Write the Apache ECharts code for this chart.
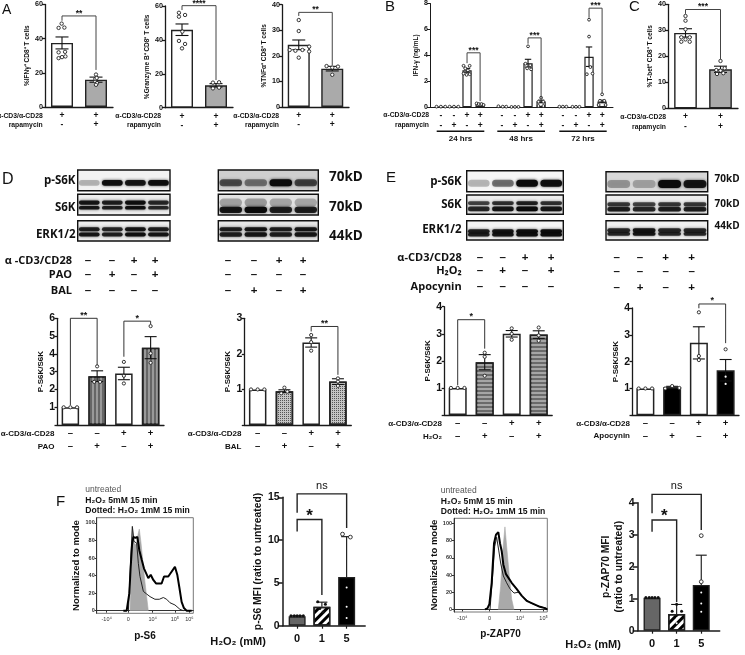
<!DOCTYPE html>
<html><head><meta charset="utf-8">
<style>html,body{margin:0;background:#fff}#c{width:745px;height:655px;filter:blur(.35px)}</style>
<script src="https://cdn.jsdelivr.net/npm/echarts@6/dist/echarts.min.js"></script>
</head><body><div id="c"></div>
<script>
// ---------- DATA ----------
const a1Cats=['+\n-','+\n+'];
const a1Vals=[37.5,16], a1Err=[3.5,1.5];
const a1Pts=[[0,46.3,-.1],[0,46.5,.07],[0,48.8,-.01],[0,32,-.1],[0,32.3,.09],[0,28.6,-.1],[0,29.6,.1],[0,29.2,0],[1,19,0],[1,15,-.02],[1,14,.03],[1,13,0],[1,16.5,-.02],[1,17,.02]];
const a2Vals=[46,13.2], a2Err=[3.4,1];
const a2Pts=[[0,56,-.09],[0,54.7,.09],[0,53.7,-.09],[0,44.9,.01],[0,39.4,-.09],[0,37.6,.09],[0,35,0],[1,14.8,-.09],[1,15,.09],[1,11.4,-.09],[1,11.8,.09]];
const a3Vals=[24.3,15], a3Err=[1.9,.9];
const a3Pts=[[0,34,0],[0,29.7,0],[0,22.3,-.27],[0,22,-.1],[0,22.3,.11],[0,23.6,.31],[0,21.7,.31],[0,19.3,0],[1,16,-.17],[1,15.8,.17],[1,12.6,0],[1,15.4,0]];
const bCats=['','','-\n-','','','-\n+','','','+\n-','','','+\n+','','','','','-\n-','','','-\n+','','','+\n-','','','+\n+','','','','','-\n-','','','-\n+','','','+\n-','','','+\n+','',''];
const bIdx=[2,5,8,11,16,19,22,25,30,33,36,39];
const bVals=[.05,.05,2.85,.25,.05,.03,3.4,.45,.04,.04,3.9,.45], bErr=[0,0,.15,.05,0,0,.3,.1,0,0,.75,.1];
const bPts=[[2,.05,-1],[2,.05,0],[2,.05,1],[5,.05,-1],[5,.05,0],[5,.05,1],
[8,3.2,-.8],[8,3.2,.6],[8,3,-.4],[8,2.85,.2],[8,2.6,-.8],[8,2.55,.6],[8,2.5,-.1],
[11,.3,-.8],[11,.25,-.3],[11,.25,.3],[11,.18,.8],
[16,.08,-.8],[16,.05,.2],[16,.05,1],[19,.03,-.8],[19,.03,0],[19,.03,.8],
[22,4.7,0],[22,3.36,-.6],[22,3.24,.5],[22,3,-.2],[22,2.93,.7],
[25,.74,0],[25,.43,-.6],[25,.43,.5],[25,.1,-.6],[25,.1,.5],
[30,.05,-.8],[30,.05,0],[30,.05,.8],[33,.04,-.8],[33,.04,0],[33,.04,.8],
[36,6.75,0],[36,5.45,0],[36,3.1,.3],[36,2.55,-.5],[36,2.6,.8],
[39,1,0],[39,.5,-.5],[39,.5,.5],[39,.18,-.8],[39,.18,.8]];
const cVals=[29,15], cErr=[1.6,1.2];
const cPts=[[0,35.5,0],[0,33.7,0],[0,30.4,0],[0,27.3,-.12],[0,27.3,.12],[0,26.5,0],[0,25.6,-.12],[0,25.6,.12],[1,18.2,0],[1,15.4,.12],[1,14.7,-.12],[1,14.5,0],[1,13.2,-.1],[1,13.5,.08]];
const d1Cats=['–\n–','–\n+','+\n–','+\n+'];
const d1Vals=[1,2.75,2.9,4.35], d1Err=[0,.3,.35,.62];
const d1Pts=[[0,1,-.25],[0,1,0],[0,1,.25],[1,3.3,0],[1,2.43,-.11],[1,2.43,.11],[2,3.55,0],[2,2.77,0],[2,2.34,0],[3,5.56,0],[3,4.03,0],[3,3.5,0]];
const d2Vals=[1,.95,2.32,1.22], d2Err=[0,.04,.13,.08];
const d2Pts=[[0,1,-.25],[0,1,0],[0,1,.25],[1,1.05,0],[1,.89,-.12],[1,.94,.11],[2,2.53,0],[2,2.33,0],[2,2.09,0],[3,1.31,0],[3,1.22,0],[3,1.1,0]];
const e1Vals=[1,1.95,3,2.97], e1Err=[0,.28,.12,.14];
const e1Pts=[[0,1,-.25],[0,1,0],[0,1,.25],[1,2.3,0],[1,2.15,0],[1,1.45,0],[2,3.2,0],[2,3,0],[2,2.78,0],[3,3.23,0],[3,2.94,0],[3,2.74,0]];
const e2Vals=[1,1.05,2.7,1.68], e2Err=[0,.03,.6,.4];
const e2Pts=[[0,1,-.25],[0,1,0],[0,1,.25],[1,1,-.26],[1,1.09,0],[1,1.02,.27],[2,3.84,0],[2,2.21,0],[2,2.06,0],[3,2.46,0]];
const e2Dots=[[3,1.44,0],[3,1.17,0]];
const fCats=['','','','0','','','','','','1','','','','','','5','','','',''];
const fIdx=[3,9,15];
const f3Vals=[1.1,2.2,5.7], f3Top=[.05,.55,4.7];
const f3Dark=[[3,1.15,-1.5],[3,1.15,-.7],[3,1.15,0],[3,1.15,.7],[3,1.15,1.5],[9,2.8,-1],[9,2.5,.85],[9,2,-.5],[9,1.6,.3]];
const f3Open=[[15,10.7,-1],[15,10.35,.9]];
const f3Dots=[[15,4.45,0],[15,2.2,0],[15,.9,0]];
const f4Vals=[1.03,.52,1.43], f4Top=[0,.3,.93];
const f4Dark=[[3,1.04,-1.5],[3,1.04,-.7],[3,1.04,0],[3,1.04,.7],[3,1.04,1.5],[9,.83,0],[9,.61,-1.1],[9,.61,1.2]];
const f4Open=[[15,2.97,0],[15,1.53,0]];
const f4Dots=[[9,.39,.1],[9,.23,0],[15,1.19,0],[15,.85,0],[15,.59,0]];
// histograms: [channel, % of mode]
const h1Gray=[[34.5,0],[35.9,54],[36.9,96],[38.6,77],[40.7,75],[42.8,87],[44.1,93],[45.9,77],[47.6,58],[49.7,35],[51.7,16],[53.4,0]];
const h1Thick=[[27.6,0],[31,0],[33.8,20],[35.2,50],[36.6,75],[37.9,84],[40,83],[42.1,84],[44.1,69],[46.6,58],[49,48],[51,43],[53.4,37],[55.9,41],[58.6,35],[61.4,31],[67.2,31],[69.7,39],[74.1,39],[76.6,43],[78.6,42],[81,50],[83.4,41],[85.5,27],[87.9,10],[90.3,3],[93,0],[98.3,0]];
const h1Thin=[[32.8,0],[35.2,58],[36.9,96],[38.6,79],[41.4,77],[43.1,54],[44.8,39],[48.3,22],[51.7,19],[55.2,16],[60.3,13],[64.8,13],[69,15],[72.4,13],[75.9,9],[81,6.5],[86.2,1.5],[89.7,0]];
const h2Gray=[[47.5,0],[50,27],[52.1,66],[54.6,96],[56.8,69],[59.3,39],[61.8,12],[64.3,0]];
const h2Thick=[[33.2,0],[35.7,1],[37.9,6],[40.4,31],[42.9,77],[45,87],[47.5,90],[49.3,77],[51.1,68],[52.9,52],[55.7,41],[58.2,37],[61.8,31],[67.1,24],[72.5,16],[77.9,10],[85,6.5],[92.1,3],[97.5,1.5],[100,0]];
const h2Thin=[[38.6,0],[41.4,39],[43.6,73],[45.7,84],[47.9,69],[50,54],[52.9,39],[56.4,31],[60,24],[64.3,19],[68.9,20],[74.3,14],[81.4,8],[88.6,4.5],[99.3,1]];
// western blot band intensity per lane
const dlPS6K=[.25,.95,.9,.95], dlS6K=[.9,.85,.95,.8], dlERK=[.9,.85,.95,.9];
const drPS6K=[.6,.45,1,.65], drS6K=[.9,1,.85,.85], drERK=[.85,.9,.85,.9];
const elPS6K=[.25,.5,1,.95], elS6K=[.8,.9,1,.9], elERK=[.85,.9,.95,.95];
const erPS6K=[.3,.25,1,.9], erS6K=[.85,.8,.85,.85], erERK=[.8,.9,.8,.8];
// sign rows
const dlRows=[['–','–','+','+'],['–','+','–','+'],['–','–','–','–']];
const drRows=[['–','–','+','+'],['–','–','–','–'],['–','+','–','+']];
const elRows=[['–','–','+','+'],['–','+','–','+'],['–','–','–','–']];
const erRows=[['–','–','+','+'],['–','–','–','–'],['–','+','–','+']];

// ---------- BUILD ----------
const grid=[],xAxis=[],yAxis=[],series=[],graphic=[];
const FF='"Liberation Sans",Arial,sans-serif', BL='"Open Sans","Noto Sans",sans-serif';
const INK='#1a1a1a';
const T=(x,y,text,o={})=>graphic.push({type:'text',x,y,silent:true,style:{text,fill:o.color||'#111',font:(o.weight||'bold')+' '+(o.size||6)+'px '+(o.ff||FF),textAlign:o.align||'left',textVerticalAlign:'middle'}});
const R=(x,y,w,h)=>graphic.push({type:'rect',silent:true,shape:{x,y,width:w,height:h},style:{fill:'#111'}});
const decal={
 v:{symbol:'rect',symbolSize:1,dashArrayX:[2,2],dashArrayY:[1,0],color:'#999',rotation:0},
 h:{symbol:'rect',symbolSize:1,dashArrayX:[1,0],dashArrayY:[2,2],color:'#a5a5a5',rotation:0},
 c:{symbol:'rect',symbolSize:1,dashArrayX:[1,1],dashArrayY:[1,1],color:'#555',rotation:0},
 d:{symbol:'rect',symbolSize:1,dashArrayX:[1,0],dashArrayY:[3,3],color:'#000',rotation:-Math.PI/4}
};
const ST={w:{color:'#fff'},g:{color:'#aaa'},k:{color:'#000'},m:{color:'#666'},
 v:{color:'#666',decal:decal.v},h:{color:'#6a6a6a',decal:decal.h},c:{color:'#c4c4c4',decal:decal.c},d:{color:'#fff',decal:decal.d}};

function ptSeries(gi,data,kind,r){
 return {type:'custom',xAxisIndex:gi,yAxisIndex:gi,encode:{x:0,y:1},data,z:5,clip:false,silent:true,
  renderItem(p,api){const c=api.coord([api.value(0),api.value(1)]);const s=api.size([1,0])[0];
   return {type:'circle',shape:{cx:c[0]+api.value(2)*s,cy:c[1],r},
    style:kind==='open'?{fill:'#fff',stroke:'#222',lineWidth:.9}:kind==='white'?{fill:'#fff'}:{fill:'#111'}};}};
}
function panel(c){
 const gi=grid.length;
 grid.push({left:c.left,top:c.top,width:c.width,height:c.height});
 const idx=c.idx||c.vals.map((_,i)=>i);
 xAxis.push({type:'category',gridIndex:gi,data:c.cats,boundaryGap:true,
  axisLine:{show:true,lineStyle:{color:INK,width:c.lw||1.3}},
  axisTick:c.ticks?{show:true,alignWithLabel:true,length:3,interval:(i,v)=>v!=='',lineStyle:{color:INK,width:1.2}}:{show:false},
  axisLabel:{interval:0,margin:c.margin,lineHeight:c.lh,fontFamily:FF,fontWeight:'bold',fontSize:c.xfs,color:'#111',hideOverlap:false}});
 yAxis.push({type:'value',gridIndex:gi,min:0,max:c.max,interval:c.step,
  axisLine:{show:true,lineStyle:{color:INK,width:c.lw||1.3}},
  axisTick:{show:true,length:c.tick||3,lineStyle:{color:INK,width:c.lw||1.3}},splitLine:{show:false},
  axisLabel:{margin:c.lm||2,fontFamily:FF,fontWeight:'bold',fontSize:c.yfs,color:'#111',formatter:v=>(c.noZero&&v===0)?'':String(v)},
  name:c.yName,nameLocation:'middle',nameGap:c.nameGap,nameRotate:90,
  nameTextStyle:{fontFamily:FF,fontWeight:'bold',fontSize:c.nfs,color:'#111',lineHeight:c.nfs*1.2}});
 series.push({type:'bar',xAxisIndex:gi,yAxisIndex:gi,barWidth:c.barW,silent:true,z:2,
  data:c.vals.map((v,i)=>({value:[idx[i],v],itemStyle:Object.assign({borderColor:'#222',borderWidth:c.bw||1.4},ST[c.styles[i]])}))});
 const err=c.vals.map((v,i)=>[idx[i],v,c.err[i]]);
 series.push({type:'custom',xAxisIndex:gi,yAxisIndex:gi,encode:{x:0,y:1},data:err,z:4,clip:false,silent:true,
  renderItem(p,api){const i=api.value(0),v=api.value(1),e=api.value(2);if(!e)return;
   const up=api.coord([i,v+e]),lo=api.coord([i,c.oneSided?v:v-e]),w=c.cap;
   const ch=[{type:'line',shape:{x1:up[0],y1:up[1],x2:lo[0],y2:lo[1]},style:{stroke:'#111',lineWidth:1.1}},
    {type:'line',shape:{x1:up[0]-w,y1:up[1],x2:up[0]+w,y2:up[1]},style:{stroke:'#111',lineWidth:1.1}}];
   if(!c.oneSided)ch.push({type:'line',shape:{x1:lo[0]-w,y1:lo[1],x2:lo[0]+w,y2:lo[1]},style:{stroke:'#111',lineWidth:1.1}});
   return {type:'group',children:ch};}});
 (c.pts||[]).forEach(s=>series.push(ptSeries(gi,s[0],s[1],s[2])));
 if(c.br){
  const rows=c.br.map(b=>[b[0],b[2],b[1],b[3],b[4]]);
  series.push({type:'custom',xAxisIndex:gi,yAxisIndex:gi,encode:{x:0,y:1},data:rows,z:6,clip:false,silent:true,
   renderItem(p,api){const a=api.value(0),top=api.value(1),b=api.value(2),l=api.value(3),r=api.value(4);
    const tl=api.coord([a,top]),tr=api.coord([b,top]),bl=api.coord([a,l]),brr=api.coord([b,r]);
    const lab=c.br[p.dataIndex];
    return {type:'group',children:[
     {type:'polyline',shape:{points:[bl,tl,tr,brr]},style:{fill:null,stroke:c.brColor||'#333',lineWidth:c.brw||1}},
     {type:'text',style:{x:(tl[0]+tr[0])/2+(lab[7]||0),y:tl[1]-(lab[6]||c.sOff),text:lab[5],fill:'#111',font:(lab[5]==='ns'?'normal ':'bold ')+(lab[5]==='ns'?11:c.sfs)+'px '+FF,textAlign:'center',textVerticalAlign:'middle'}}]};}});
 }
}
const rowA=(x,y1,y2,t2,s)=>{T(x,y1,'α-CD3/α-CD28',{align:'right',size:s});if(t2)T(x,y2,t2,{align:'right',size:s});};

// Panel A
const A={cats:a1Cats,barW:22,cap:6.5,margin:4,lh:9.3,xfs:8.5,yfs:7.2,nfs:6.5,styles:['w','g'],sOff:2.5,sfs:8.5,brColor:'#444'};
panel({...A,left:45,top:4.5,width:68,height:102.5,max:60,step:20,vals:a1Vals,err:a1Err,pts:[[a1Pts,'open',1.7]],yName:'%IFNγ⁺ CD8⁺ T cells',nameGap:13,br:[[0,1,53.3,50.5,21.7,'**']]});
panel({...A,left:165,top:6,width:68,height:101.7,max:60,step:20,vals:a2Vals,err:a2Err,pts:[[a2Pts,'open',1.7]],yName:'%Granzyme B⁺ CD8⁺ T cells',nameGap:13,br:[[0,1,60.2,57.6,16.3,'****']]});
panel({...A,left:282,top:4.7,width:67,height:102.3,max:40,step:10,vals:a3Vals,err:a3Err,pts:[[a3Pts,'open',1.7]],yName:'%TNFα⁺ CD8⁺ T cells',nameGap:13,br:[[0,1,37,35.6,16.4,'**']]});
rowA(42.7,115.7,125,'rapamycin',6.8);rowA(161,115.7,125,'rapamycin',6.8);rowA(279,115.7,125,'rapamycin',6.8);
// Panel B
panel({left:430,top:2.7,width:183,height:104.6,max:8,step:2,cats:bCats,idx:bIdx,barW:9.3,cap:3.2,margin:3,lh:10,xfs:8.5,yfs:7,nfs:6.5,lw:1,bw:1.2,
 vals:bVals,err:bErr,styles:Array(12).fill('w'),pts:[[bPts,'open',1.4]],yName:'IFN-γ (ng/mL)',nameGap:8,sOff:2.5,sfs:8.5,brColor:'#444',
 br:[[8,11,4.2,3.4,.48,'***'],[22,25,5.35,4.9,.6,'***'],[36,39,7.64,6.9,1.07,'***']]});
rowA(429,115,125,'rapamycin',6.8);
[[436.7,47.6,'24 hrs'],[497.3,47.7,'48 hrs'],[559.3,47.4,'72 hrs']].forEach(g=>{R(g[0],130.6,g[1],1.4);T(g[0]+g[1]/2,138.5,g[2],{align:'center',size:8});});
// Panel C
panel({...A,left:668,top:4.3,width:70,height:104,max:40,step:10,margin:4,lh:9.7,barW:22.7,vals:cVals,err:cErr,pts:[[cPts,'open',1.7]],yName:'%T-bet⁺ CD8⁺ T cells',nameGap:8,br:[[0,1,38,36.3,18.8,'***']]});
rowA(666,117.5,127,'rapamycin',6.8);
// Panel D, E bar charts
const D={barW:17.5,cap:6,margin:2,lh:13,xfs:9.5,yfs:10.5,nfs:8,noZero:true,bw:1.5,sOff:3,sfs:9,brColor:'#333',tick:2.5};
panel({...D,left:57,top:318.3,width:107,height:106.8,max:6,step:1,cats:d1Cats,vals:d1Vals,err:d1Err,styles:['w','v','w','v'],pts:[[d1Pts,'open',1.6]],yName:'P-S6K/S6K',nameGap:5,
 br:[[0,1,6,1.13,3.37,'**'],[2,3,5.84,3.84,5.67,'*']]});
panel({...D,left:244.3,top:318.3,width:107,height:106.7,max:3,step:1,cats:d1Cats,vals:d2Vals,err:d2Err,styles:['w','c','w','c'],pts:[[d2Pts,'open',1.6]],yName:'P-S6K/S6K',nameGap:5,
 br:[[2,3,2.77,2.63,1.41,'**']]});
panel({...D,left:444.2,top:306.7,width:108,height:108.3,max:4,step:1,cats:d1Cats,vals:e1Vals,err:e1Err,styles:['w','h','w','h'],barW:18,pts:[[e1Pts,'open',1.6]],yName:'P-S6K/S6K',nameGap:5,
 br:[[0,1,3.52,1.1,2.45,'*']]});
panel({...D,left:632,top:308,width:107,height:107.3,max:4,step:1,cats:d1Cats,vals:e2Vals,err:e2Err,styles:['w','k','w','k'],barW:18,pts:[[e2Pts,'open',1.6],[e2Dots,'white',1.1]],yName:'P-S6K/S6K',nameGap:5,
 br:[[2,3,4.15,3.99,2.69,'*']]});
rowA(54.5,433.3,446.7,'PAO',8);
rowA(241.5,433.3,446.7,'BAL',8);
rowA(442,423.7,436.7,'H₂O₂',8);
rowA(630,423.7,436,'Apocynin',8);
// Panel F bars
const F={cats:fCats,idx:fIdx,ticks:true,barW:17,cap:5.5,margin:8,lh:11,xfs:11,yfs:10.5,nfs:10.3,oneSided:true,lw:1.5,bw:1.4,styles:['m','d','k'],sOff:7,sfs:17,brColor:'#222',brw:1.4,tick:5,lm:3};
panel({...F,left:282.7,top:497.3,width:82.5,height:128.4,max:15,step:5,vals:f3Vals,err:f3Top,pts:[[f3Dark,'dark',1.5],[f3Open,'open',1.9],[f3Dots,'white',1]],yName:'p-S6 MFI (ratio to untreated)',nameGap:6,
 br:[[3,9,12.4,11,3.6,'*',3.5],[3,15,15.4,13.2,11.4,'ns',8,0]]});
panel({...F,left:637.7,top:502.7,width:82,height:128,max:4,step:1,vals:f4Vals,err:f4Top,pts:[[f4Dark,'dark',1.5],[f4Open,'open',1.9],[f4Dots,'white',1]],yName:'p-ZAP70 MFI\n(ratio to untreated)',nameGap:11,
 br:[[3,9,3.46,3.09,.9,'*',3.5],[3,15,4.26,3.67,3.15,'ns',8,0]]});
T(238,642,'H₂O₂ (mM)',{align:'center',size:11});
T(593,645,'H₂O₂ (mM)',{align:'center',size:11});

// Histograms
function hist(c){
 const gi=grid.length;
 grid.push({left:c.left,top:c.top,width:c.width,height:c.height,show:true,borderColor:'#777',borderWidth:1,backgroundColor:'#fff'});
 xAxis.push({type:'value',gridIndex:gi,min:0,max:100,splitLine:{show:false},
  axisLine:{show:true,lineStyle:{color:'#333',width:1}},
  axisTick:{show:true,customValues:c.xt,length:2,lineStyle:{color:'#333'}},
  axisLabel:{customValues:c.xt,margin:3,fontFamily:FF,fontSize:5.5,color:'#333',formatter:v=>c.xl[c.xt.indexOf(v)]},
  name:c.xName,nameLocation:'middle',nameGap:c.xGap,nameTextStyle:{fontFamily:FF,fontWeight:'bold',fontSize:10,color:'#111'}});
 yAxis.push({type:'value',gridIndex:gi,min:-3,max:106,splitLine:{show:false},
  axisLine:{show:true,lineStyle:{color:'#333',width:1}},
  axisTick:{show:true,customValues:[0,20,40,60,80,100],length:2,lineStyle:{color:'#333'}},
  axisLabel:{customValues:[0,20,40,60,80,100],margin:2,fontFamily:FF,fontWeight:'bold',fontSize:5.5,color:'#333'},
  name:'Normalized to mode',nameLocation:'middle',nameGap:c.yGap,nameTextStyle:{fontFamily:FF,fontWeight:'bold',fontSize:9.5,color:'#111'}});
 const L=(data,w,col,area)=>series.push({type:'line',xAxisIndex:gi,yAxisIndex:gi,data,showSymbol:false,silent:true,lineStyle:{width:w,color:col},areaStyle:area?{color:col,opacity:1}:undefined,z:area?2:3});
 L(c.gray,.6,'#a9a9a9',true);L(c.thin,1,'#222');L(c.thick,2,'#000');
}
hist({left:96.7,top:517.7,width:96.6,height:95.6,gray:h1Gray,thick:h1Thick,thin:h1Thin,xt:[10.3,32.8,58,81,95.9],xl:['-10⁴','0','10⁴','10⁵','10⁶'],xName:'p-S6',xGap:18,yGap:6});
hist({left:454,top:518.3,width:93.3,height:93.7,gray:h2Gray,thick:h2Thick,thin:h2Thin,xt:[8.9,38,71,96],xl:['-10⁴','0','10⁴','10⁵'],xName:'p-ZAP70',xGap:17,yGap:8});
[[85.3,490],[440.7,491]].forEach(p=>{T(p[0],p[1],'untreated',{weight:'normal',size:8.5,color:'#555'});T(p[0],p[1]+10.7,'H₂O₂ 5mM 15 min',{size:8.6});T(p[0],p[1]+21,'Dotted: H₂O₂ 1mM 15 min',{size:8.6});});

// Western blots
function blot(left,top,w,h,ints,bands,bg){
 const gi=grid.length;
 grid.push({left,top,width:w,height:h,show:true,backgroundColor:bg||'#eee',borderColor:'#111',borderWidth:1.4});
 xAxis.push({type:'category',gridIndex:gi,show:false,data:['1','2','3','4']});
 yAxis.push({type:'value',gridIndex:gi,show:false,min:0,max:1,inverse:true});
 bands.forEach(b=>{
  const [f,th,rel]=b;
  series.push({type:'custom',xAxisIndex:gi,yAxisIndex:gi,encode:{x:0,y:1},clip:true,silent:true,z:2,
   data:ints.map((v,i)=>[i,f,v*rel]),
   renderItem(p,api){const c=api.coord([api.value(0),api.value(1)]);const sw=api.size([1,0])[0];const a=api.value(2);
    const hh=th*h;
    return {type:'rect',shape:{x:c[0]-sw*.45,y:c[1]-hh/2,width:sw*.9,height:hh,r:hh/2},
     style:{fill:'rgba(10,10,10,'+a+')',shadowBlur:3,shadowColor:'rgba(0,0,0,'+(a*.8)+')'}};}});
 });
}
blot(77.7,170,92.3,20.7,dlPS6K,[[.62,.28,1]],'#f2f2f2');blot(77.7,194.3,92.3,20.7,dlS6K,[[.4,.2,1],[.65,.18,1]],'#eee');blot(77.7,220.7,92.3,20.3,dlERK,[[.42,.2,.95],[.68,.2,1]],'#eee');
blot(218.3,170,100,20.7,drPS6K,[[.62,.34,1]],'#cfcfcf');blot(218.3,194.3,100,20.7,drS6K,[[.4,.4,.3],[.75,.3,1]],'#e4e4e4');blot(218.3,220.7,100,20.3,drERK,[[.42,.2,1],[.68,.22,1]],'#e6e6e6');
blot(466.7,170.7,96.6,21,elPS6K,[[.6,.34,1]],'#f6f6f6');blot(466.7,195,96.6,19.3,elS6K,[[.42,.2,.85],[.72,.24,1]],'#eee');blot(466.7,220.7,96.6,19.3,elERK,[[.55,.22,1],[.72,.2,1]],'#f4f4f4');
blot(606,171.7,101.7,20,erPS6K,[[.62,.4,1]],'#d8d8d8');blot(606,195,101.7,19.3,erS6K,[[.48,.22,.85],[.74,.24,1]],'#eee');blot(606,220.7,101.7,19.3,erERK,[[.5,.22,1],[.68,.2,1]],'#f0f0f0');

// Blot text
[['p-S6K',180.7],['S6K',207.3],['ERK1/2',235]].forEach(r=>T(75.5,r[1],r[0],{align:'right',size:11.5,ff:BL}));
[['p-S6K',181.3],['S6K',204.7],['ERK1/2',230]].forEach(r=>T(461.7,r[1],r[0],{align:'right',size:11.5,ff:BL}));
[['70kD',177.5],['70kD',207],['44kD',236]].forEach(r=>T(329,r[1],r[0],{size:13.5,ff:BL}));
[['70kD',179],['70kD',204],['44kD',226]].forEach(r=>T(714.5,r[1],r[0],{size:10,ff:BL}));
function signs(xs,ys,rows,titles,tx){
 rows.forEach((row,j)=>{if(titles)T(tx,ys[j],titles[j],{align:'right',size:11,ff:BL});
  row.forEach((s,i)=>T(xs[i],ys[j],s,{align:'center',size:11.5}));});
}
signs([88,112,134,155],[260.7,275,291],dlRows,['α -CD3/CD28','PAO','BAL'],72);
signs([228,254,279,303],[260.7,275,291],drRows);
signs([480,502.7,525,551],[257.7,271,286.7],elRows,['α-CD3/CD28','H₂O₂','Apocynin'],461.7);
signs([616.7,640,665.7,691.7],[257.7,272,287.5],erRows);
// Panel letters
[['A',2,10,14],['B',385,7,15],['C',629,7,15],['D',2,180,16],['E',386,178,15],['F',56,502,15]].forEach(l=>T(l[1],l[2],l[0],{weight:'normal',size:l[3]}));

const chart=echarts.init(document.getElementById('c'),null,{renderer:'canvas'});
chart.setOption({animation:false,backgroundColor:'#fff',grid,xAxis,yAxis,series,graphic});
</script></body></html>
